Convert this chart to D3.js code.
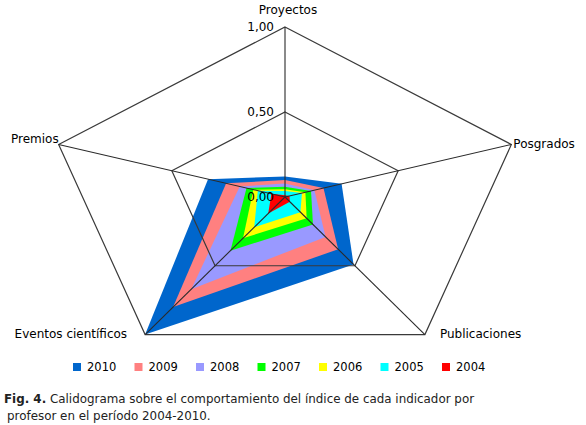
<!DOCTYPE html>
<html>
<head>
<meta charset="utf-8">
<script src="https://d3js.org/d3.v7.min.js"></script>
<style>
  body { margin: 0; background: #fff; }
  text { font-family: "DejaVu Sans", Verdana, sans-serif; }
</style>
</head>
<body>
<div id="chart"></div>
<script>
// indicators, clockwise from the top
var indicators = ["Proyectos", "Posgrados", "Publicaciones", "Eventos científicos", "Premios"];
var years = ["2010", "2009", "2008", "2007", "2006", "2005", "2004"];
var colours = ["#0066cc", "#ff8080", "#9999ff", "#00ff00", "#ffff00", "#00ffff", "#ff0000"];

// index values per year, same order as indicators
var v2010 = [0.12, 0.25, 0.49, 1.00, 0.34];
var v2009 = [0.10, 0.17, 0.38, 0.80, 0.26];
var v2008 = [0.08, 0.13, 0.29, 0.67, 0.20];
var v2007 = [0.06, 0.115, 0.20, 0.39, 0.17];
var v2006 = [0.045, 0.09, 0.155, 0.30, 0.14];
var v2005 = [0.035, 0.075, 0.11, 0.22, 0.12];
var v2004 = [0.01, 0.02, 0.035, 0.12, 0.06];
var series = [v2010, v2009, v2008, v2007, v2006, v2005, v2004];

var ticks = [0, 0.5, 1];
var tickLabels = ["0,00", "0,50", "1,00"];

var width = 586, height = 425;
var cx = 285, cy = 197, rx = 238, ry = 170;

var svg = d3.select("#chart")
    .append("svg")
    .attr("width", width)
    .attr("height", height);

// the plot is stretched sideways, so x and y get their own scale
var x = d3.scaleLinear().domain([-1, 1]).range([cx - rx, cx + rx]);
var y = d3.scaleLinear().domain([-1, 1]).range([cy + ry, cy - ry]);

var angle = function(i) { return i * 2 * Math.PI / indicators.length; };
var px = function(v, i) { return x(v * Math.sin(angle(i))); };
var py = function(v, i) { return y(v * Math.cos(angle(i))); };

var radar = d3.line()
    .x(function(d, i) { return px(d, i); })
    .y(function(d, i) { return py(d, i); })
    .curve(d3.curveLinearClosed);

// filled areas, biggest year first
svg.selectAll(".area")
    .data(series)
    .enter()
    .append("path")
    .attr("class", "area")
    .attr("d", function(d) { return radar(d); })
    .attr("fill", function(d, i) { return colours[i]; })
    .attr("stroke", "none");

// grid pentagons
ticks.filter(function(t) { return t > 0; }).forEach(function(t) {
    svg.append("path")
        .attr("d", radar(indicators.map(function() { return t; })))
        .attr("fill", "none")
        .attr("stroke", "#3a3a3a")
        .attr("stroke-width", 1.2);
});

// spokes
svg.selectAll(".spoke")
    .data(indicators)
    .enter()
    .append("line")
    .attr("class", "spoke")
    .attr("x1", x(0))
    .attr("y1", y(0))
    .attr("x2", function(d, i) { return px(1, i); })
    .attr("y2", function(d, i) { return py(1, i); })
    .attr("stroke", "#2a2a2a")
    .attr("stroke-width", 1.1);

// tick labels along the top spoke
svg.selectAll(".tick")
    .data(ticks)
    .enter()
    .append("text")
    .attr("class", "tick")
    .attr("x", cx - 11)
    .attr("y", function(d) { return py(d, 0); })
    .attr("dy", "0.35em")
    .attr("text-anchor", "end")
    .style("font-size", "12px")
    .attr("fill", "#000")
    .text(function(d, i) { return tickLabels[i]; });

// indicator labels
var labelPos = [
    { dx: 3, dy: -13, anchor: "middle" },
    { dx: 2, dy: 4, anchor: "start" },
    { dx: 15, dy: 3, anchor: "start" },
    { dx: -18, dy: 3, anchor: "end" },
    { dx: 0, dy: -1, anchor: "end" }
];
svg.selectAll(".label")
    .data(indicators)
    .enter()
    .append("text")
    .attr("class", "label")
    .attr("x", function(d, i) { return px(1, i) + labelPos[i].dx; })
    .attr("y", function(d, i) { return py(1, i) + labelPos[i].dy; })
    .attr("text-anchor", function(d, i) { return labelPos[i].anchor; })
    .style("font-size", "12px")
    .attr("fill", "#000")
    .text(function(d) { return d; });

// legend
var legend = svg.selectAll(".legend")
    .data(years)
    .enter()
    .append("g")
    .attr("class", "legend")
    .attr("transform", function(d, i) { return "translate(" + (73 + i * 61.5) + ",367)"; });

legend.append("rect")
    .attr("x", 0)
    .attr("y", -4)
    .attr("width", 8)
    .attr("height", 8)
    .attr("fill", function(d, i) { return colours[i]; });

legend.append("text")
    .attr("x", 14)
    .attr("y", 0)
    .attr("dy", "0.36em")
    .style("font-size", "11.5px")
    .attr("fill", "#000")
    .text(function(d) { return d; });

// caption
var caption = svg.append("text")
    .attr("x", 4)
    .attr("y", 403)
    .style("font-size", "11.9px")
    .attr("fill", "#222");
caption.append("tspan").style("font-weight", "bold").text("Fig. 4.");
caption.append("tspan").text(" Calidograma sobre el comportamiento del índice de cada indicador por");

svg.append("text")
    .attr("x", 7)
    .attr("y", 420)
    .style("font-size", "11.9px")
    .attr("fill", "#222")
    .text("profesor en el período 2004-2010.");
</script>
</body>
</html>
